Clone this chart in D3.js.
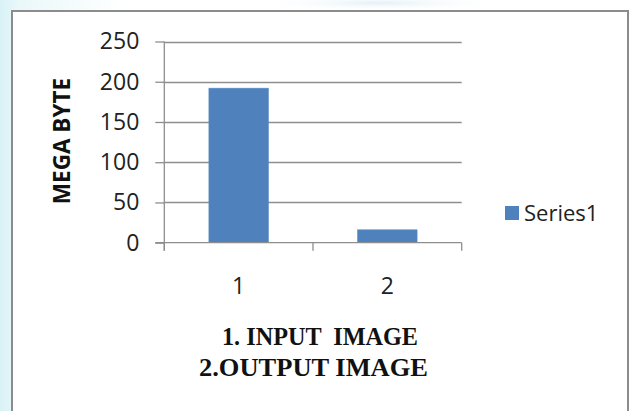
<!DOCTYPE html>
<html>
<head>
<meta charset="utf-8">
<script src="https://cdn.jsdelivr.net/npm/d3@7/dist/d3.min.js"></script>
<style>
  html, body { margin: 0; padding: 0; background: #ffffff; }
  svg { display: block; }
</style>
</head>
<body>
<svg id="chart" width="632" height="411"></svg>
<script>
// ---- data ----
const categories = ["1", "2"];
const seriesName = "Series1";
const seriesValues = [192, 16];
const yTicks = [0, 50, 100, 150, 200, 250];
const yTitle = "MEGA BYTE";
const xTitleLines = ["1. INPUT  IMAGE", "2.OUTPUT IMAGE"];

// ---- drawing ----
const svg = d3.select("#chart");
const W = 632, H = 411;

// faint background outside the chart frame
const defs = svg.append("defs");
const bg = defs.append("linearGradient").attr("id", "bgGrad").attr("x1", 0).attr("x2", 1).attr("y1", 0).attr("y2", 0);
bg.append("stop").attr("offset", "0").attr("stop-color", "#d9f2f6");
bg.append("stop").attr("offset", "0.03").attr("stop-color", "#eaf8fa");
bg.append("stop").attr("offset", "0.2").attr("stop-color", "#ffffff");
bg.append("stop").attr("offset", "1").attr("stop-color", "#ffffff");
svg.append("rect").attr("x", 0).attr("y", 0).attr("width", W).attr("height", H).attr("fill", "url(#bgGrad)");
const topGlow = defs.append("radialGradient").attr("id", "topGlow");
topGlow.append("stop").attr("offset", "0").attr("stop-color", "#e3f1f7");
topGlow.append("stop").attr("offset", "1").attr("stop-color", "#ffffff").attr("stop-opacity", 0);
svg.append("ellipse").attr("cx", 380).attr("cy", 3).attr("rx", 130).attr("ry", 8).attr("fill", "url(#topGlow)");

// chart frame
svg.append("rect")
  .attr("x", 12).attr("y", 11)
  .attr("width", 616).attr("height", 420)
  .attr("fill", "#ffffff")
  .attr("stroke", "#8c8c8c").attr("stroke-width", 2);

const plot = { left: 164.3, right: 461.7, top: 41.5, bottom: 242.7 };

const y = d3.scaleLinear().domain([0, 250]).range([plot.bottom, plot.top]);
const x = d3.scaleBand().domain(categories).range([plot.left, plot.right])
  .paddingInner(0.6).paddingOuter(0.3);

const gridColor = "#8e8e8e";
const sans = "'Open Sans', 'Noto Sans', sans-serif";

// gridlines
svg.append("g").selectAll("line").data(yTicks.filter(d => d > 0)).join("line")
  .attr("x1", plot.left).attr("x2", plot.right)
  .attr("y1", d => Math.round(y(d)) + 0.5).attr("y2", d => Math.round(y(d)) + 0.5)
  .attr("stroke", gridColor).attr("stroke-width", 1.3);

// y axis
const yAxis = d3.axisLeft(y).tickValues(yTicks).tickSize(9).tickPadding(16).tickFormat(d3.format("d"));
const gy = svg.append("g").attr("transform", `translate(${plot.left},0)`).call(yAxis);
gy.select(".domain").remove();
gy.selectAll(".tick line").attr("stroke", gridColor).attr("stroke-width", 1.3);
gy.selectAll(".tick text").attr("font-family", sans).attr("font-size", 23).attr("fill", "#222");
svg.append("line")
  .attr("x1", plot.left).attr("x2", plot.left)
  .attr("y1", plot.top).attr("y2", plot.bottom + 8)
  .attr("stroke", gridColor).attr("stroke-width", 1.3);

// bars
svg.append("g").selectAll("rect").data(seriesValues).join("rect")
  .attr("x", (d, i) => x(categories[i]))
  .attr("y", d => y(d))
  .attr("width", x.bandwidth())
  .attr("height", d => y(0) - y(d))
  .attr("fill", "#4f81bd")
  .attr("stroke", "#5a8bc6").attr("stroke-width", 0.6);

// x axis baseline and category ticks
svg.append("line")
  .attr("x1", plot.left - 9).attr("x2", plot.right)
  .attr("y1", plot.bottom).attr("y2", plot.bottom)
  .attr("stroke", gridColor).attr("stroke-width", 1.3);
const step = x.step();
const tickXs = d3.range(categories.length + 1).map(i => plot.left + i * step);
svg.append("g").selectAll("line").data(tickXs).join("line")
  .attr("x1", d => d).attr("x2", d => d)
  .attr("y1", plot.bottom).attr("y2", plot.bottom + 8)
  .attr("stroke", gridColor).attr("stroke-width", 1.3);

// category labels
svg.append("g").selectAll("text").data(categories).join("text")
  .attr("x", d => x(d) + x.bandwidth() / 2)
  .attr("y", 294)
  .attr("text-anchor", "middle")
  .attr("font-family", sans).attr("font-size", 23).attr("fill", "#222")
  .text(d => d);

// y title
svg.append("text")
  .attr("transform", "translate(70,141) rotate(-90)")
  .attr("text-anchor", "middle")
  .attr("font-family", sans).attr("font-weight", "bold").attr("font-size", 22.5).attr("fill", "#111")
  .text(yTitle);

// x title (two lines, bold serif, condensed)
const xtLeft = [222, 199];
const xtWidths = [196, 229];
const xtBaselines = [345, 376];
svg.append("g").selectAll("text").data(xTitleLines).join("text")
  .attr("x", (d, i) => xtLeft[i])
  .attr("y", (d, i) => xtBaselines[i])
  .attr("textLength", (d, i) => xtWidths[i])
  .attr("lengthAdjust", "spacingAndGlyphs")
  .attr("font-family", "'Liberation Serif', 'Times New Roman', serif")
  .attr("font-weight", "bold").attr("font-size", 26).attr("fill", "#111")
  .attr("xml:space", "preserve")
  .style("white-space", "pre")
  .text(d => d);

// legend
const lg = svg.append("g");
lg.append("rect").attr("x", 505).attr("y", 206).attr("width", 14).attr("height", 14).attr("fill", "#4f81bd");
lg.append("text").attr("x", 524).attr("y", 220.5)
  .attr("font-family", sans).attr("font-size", 22).attr("fill", "#222")
  .text(seriesName);
</script>
</body>
</html>
